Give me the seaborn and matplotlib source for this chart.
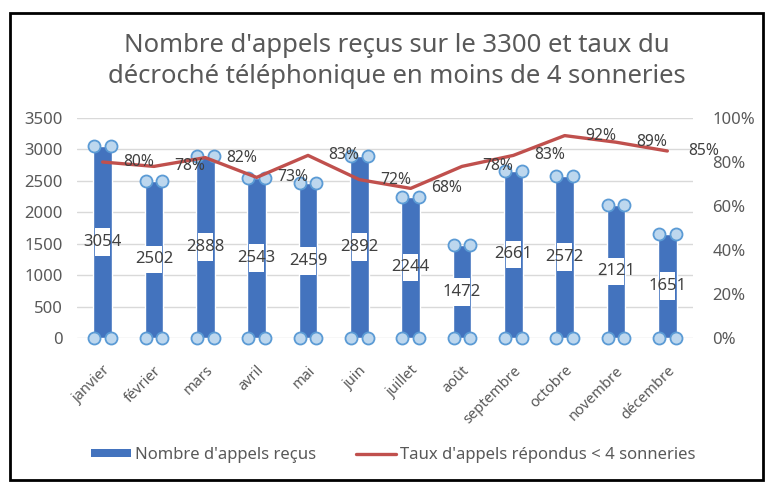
import matplotlib
matplotlib.use("Agg")
import matplotlib.pyplot as plt
import seaborn as sns
import pandas as pd
import numpy as np
from matplotlib.patches import Rectangle
from matplotlib.lines import Line2D
from matplotlib.patches import Patch

months = ["janvier", "février", "mars", "avril", "mai", "juin", "juillet",
          "août", "septembre", "octobre", "novembre", "décembre"]
appels = [3054, 2502, 2888, 2543, 2459, 2892, 2244, 1472, 2661, 2572, 2121, 1651]
taux = [0.80, 0.78, 0.82, 0.73, 0.83, 0.72, 0.68, 0.78, 0.83, 0.92, 0.89, 0.85]
left_ticks = [0, 500, 1000, 1500, 2000, 2500, 3000, 3500]
right_ticks = [0, 0.2, 0.4, 0.6, 0.8, 1.0]

sns.set_theme(style="white")
plt.rcParams['font.family'] = ['Noto Sans', 'DejaVu Sans']

BAR = "#4373BE"
LINE = "#C0504D"
TXT = "#595959"
GRID = "#D9D9D9"

df = pd.DataFrame({"mois": months, "appels": appels, "taux": taux, "pos": np.arange(len(months))})

fig = plt.figure(figsize=(7.65, 4.83), dpi=100)
ax = fig.add_axes([77/765, 1-338/483, (693-77)/765, (338-118)/483])

sns.barplot(data=df, x="mois", y="appels", color=BAR, width=0.36, ax=ax,
            saturation=1, order=months, zorder=2)
ax.set_xlim(-0.5, 11.5)
ax.set_ylim(0, 3500)
ax.set_yticks(left_ticks)
ax.set_yticklabels([str(t) for t in left_ticks], color=TXT, fontsize=12)
ax.yaxis.grid(True, color=GRID, lw=1, zorder=0)
ax.set_axisbelow(True)
ax.tick_params(axis="y", length=0, pad=10)
ax.tick_params(axis="x", length=0, pad=18)
ax.set_xticks(range(len(months)))
ax.set_xticklabels(months, rotation=45, ha="right", rotation_mode="anchor",
                   color=TXT, fontsize=10.5)
ax.set_xlabel("")
ax.set_ylabel("")
for s in ax.spines.values():
    s.set_visible(False)

# value labels with white label boxes
for i, v in enumerate(appels):
    ax.add_patch(Rectangle((i-0.15, v/2-220), 0.30, 440, facecolor="white",
                           edgecolor="none", zorder=3))
    ax.text(i, v/2, str(v), ha="center", va="center", fontsize=12, color="#404040",
            zorder=5)

# selection handles
hx, hy = [], []
for i, v in enumerate(appels):
    for dx in (-0.16, 0.16):
        hx += [i+dx, i+dx]
        hy += [v, 0]
ax.scatter(hx, hy, s=75, facecolor="#BDD7EE", edgecolor="#5B9BD5", lw=1.3,
           zorder=6, clip_on=False)

ax2 = ax.twinx()
sns.lineplot(data=df, x="pos", y="taux", color=LINE, lw=2.4, ax=ax2, zorder=4)
ax2.set_ylim(0, 1)
ax2.set_xlim(-0.5, 11.5)
ax2.set_yticks(right_ticks)
ax2.set_yticklabels([f"{int(round(t*100))}%" for t in right_ticks], color=TXT, fontsize=12)
ax2.tick_params(axis="y", length=0, pad=14)
ax2.set_ylabel("")
ax2.set_xlabel("")
for s in ax2.spines.values():
    s.set_visible(False)
for i, t in enumerate(taux):
    ax2.annotate(f"{int(round(t*100))}%", (i, t), xytext=(36, 0),
                 textcoords="offset pixels", ha="center", va="center",
                 fontsize=11.3, color="#404040", zorder=7)

fig.text(0.519, 1-61/483, "Nombre d'appels reçus sur le 3300 et taux du\n"
         "décroché téléphonique en moins de 4 sonneries",
         ha="center", va="center", fontsize=18.5, color=TXT, linespacing=1.35)

handles = [Patch(facecolor=BAR, edgecolor="none"),
           Line2D([0], [0], color=LINE, lw=2.4)]
fig.legend(handles, ["Nombre d'appels reçus", "Taux d'appels répondus < 4 sonneries"],
           loc="center", bbox_to_anchor=(0.514, 1-455/483), ncol=2, frameon=False,
           fontsize=12, labelcolor=TXT, handlelength=2.4, handleheight=0.35,
           columnspacing=2.4, handletextpad=0.25)

fig.add_artist(Rectangle((10/765, 1-480/483), (763-10)/765, (480-13)/483,
                         transform=fig.transFigure, fill=False, edgecolor="black", lw=2))

fig.savefig("out.png", dpi=100)
